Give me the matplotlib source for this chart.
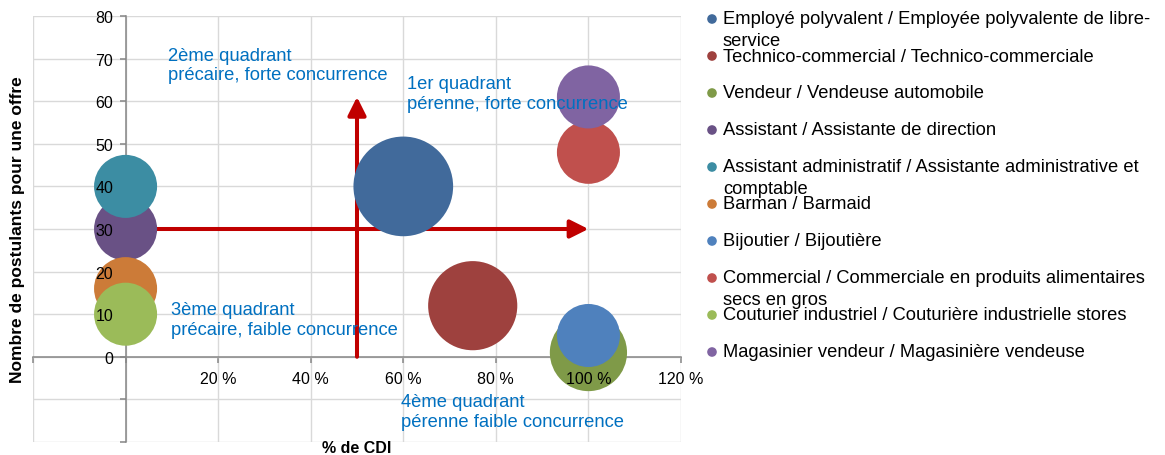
"""Bubble chart: % de CDI vs nombre de postulants pour une offre (quadrants)."""

import matplotlib
matplotlib.use("Agg")
import matplotlib.pyplot as plt
from matplotlib.ticker import FuncFormatter

# --- data ---------------------------------------------------------------
metiers = [
    "Employé polyvalent / Employée polyvalente de libre-\nservice",
    "Technico-commercial / Technico-commerciale",
    "Vendeur / Vendeuse automobile",
    "Assistant / Assistante de direction",
    "Assistant administratif / Assistante administrative et\ncomptable",
    "Barman / Barmaid",
    "Bijoutier / Bijoutière",
    "Commercial / Commerciale en produits alimentaires\nsecs en gros",
    "Couturier industriel / Couturière industrielle stores",
    "Magasinier vendeur / Magasinière vendeuse",
]
pct_cdi = [60, 75, 100, 0, 0, 0, 100, 100, 0, 100]
postulants = [40, 12, 1, 30, 40, 16, 5, 48, 10, 61]
taille = [250, 200, 150, 100, 100, 100, 100, 100, 100, 100]
couleurs = ["#416A9B", "#9E413E", "#7F9A48", "#695185", "#3C8DA3",
            "#CC7B38", "#4F81BD", "#C0504D", "#9BBB59", "#8064A2"]

quadrants = [
    (9.1, 68.5, "2ème quadrant\nprécaire, forte concurrence"),
    (60.9, 61.9, "1er quadrant\npérenne, forte concurrence"),
    (9.9, 8.8, "3ème quadrant\nprécaire, faible concurrence"),
    (59.6, -12.8, "4ème quadrant\npérenne faible concurrence"),
]

W, H = 1165, 456
plt.rcParams["font.family"] = ["Liberation Sans", "DejaVu Sans"]

fig = plt.figure(figsize=(W / 100, H / 100), dpi=100)
pos = [33 / W, 1 - 443 / H, (681 - 33) / W, (443 - 17) / H]
ax = fig.add_axes(pos)
ax.set_xlim(-20, 120)
ax.set_ylim(-20, 80)

grid_c = "#D9D9D9"
axis_c = "#868686"
xt = list(range(-20, 121, 20))
yt = list(range(-20, 81, 10))
ax.set_xticks(xt)
ax.set_yticks(yt)
ax.grid(True, color=grid_c, lw=1.0, zorder=0)
for gl in ax.get_xgridlines() + ax.get_ygridlines():
    gl.set_clip_on(False)
ax.set_axisbelow(True)

for s in ("top", "right"):
    ax.spines[s].set_visible(False)
ax.spines["left"].set_position(("data", 0))
ax.spines["bottom"].set_position(("data", 0))
for s in ("left", "bottom"):
    ax.spines[s].set_color(axis_c)
    ax.spines[s].set_linewidth(1.1)
    ax.spines[s].set_zorder(0.6)
ax.tick_params(axis="both", color=axis_c, width=1.1, length=4, direction="out",
               labelleft=False, labelbottom=False)

# red arrows (behind the bubbles)
arrow_kw = dict(arrowstyle="-|>,head_length=1.1,head_width=0.55", color="#C00000",
                lw=2.9, mutation_scale=10, shrinkA=0, shrinkB=0)
ax.annotate("", xy=(100, 30), xytext=(0, 30), arrowprops=arrow_kw, zorder=2)
ax.annotate("", xy=(50, 61), xytext=(50, 0), arrowprops=arrow_kw, zorder=2)

k = 20.6
for x, y, t, c in zip(pct_cdi, postulants, taille, couleurs):
    ax.scatter([x], [y], s=t * k, color=c, edgecolors="none", zorder=3, clip_on=False)

for x, y, txt in quadrants:
    ax.text(x, y, txt, color="#0070C0", fontsize=13.2, ha="left", va="center",
            linespacing=1.22, zorder=4)

# tick labels on a transparent overlay so they sit above the bubbles
top = fig.add_axes(pos, sharex=ax, sharey=ax, zorder=2)
top.patch.set_visible(False)
for s in top.spines.values():
    s.set_visible(False)
top.spines["left"].set_position(("data", 0))
top.spines["bottom"].set_position(("data", 0))
top.tick_params(axis="both", color="none", length=4, direction="out",
                labelsize=11.5, labelcolor="black")
top.tick_params(axis="x", pad=6)
top.tick_params(axis="y", pad=5)
top.xaxis.set_major_formatter(FuncFormatter(lambda v, p: f"{v:.0f} %" if v > 0 else ""))
top.yaxis.set_major_formatter(FuncFormatter(lambda v, p: f"{v:.0f}" if v >= 0 else ""))

fig.text(18 / W, 1 - 230 / H, "Nombre de postulants pour une offre", rotation=90,
         ha="center", va="center", fontsize=12.5, fontweight="bold")
fig.text(357 / W, 1 - 449 / H, "% de CDI", ha="center", va="center",
         fontsize=11.5, fontweight="bold")

# legend drawn in pixel coordinates
lg = fig.add_axes([0, 0, 1, 1], zorder=-1)
lg.set_xlim(0, W)
lg.set_ylim(H, 0)
lg.axis("off")
for i, (lab, c) in enumerate(zip(metiers, couleurs)):
    y0 = 20 + 37 * i
    lg.scatter([712], [y0], s=48, color=c, edgecolors="none")
    for j, line in enumerate(lab.split("\n")):
        lg.text(723, y0 + 22 * j, line, fontsize=13.2, ha="left", va="center")

fig.savefig("out.png", dpi=100)
